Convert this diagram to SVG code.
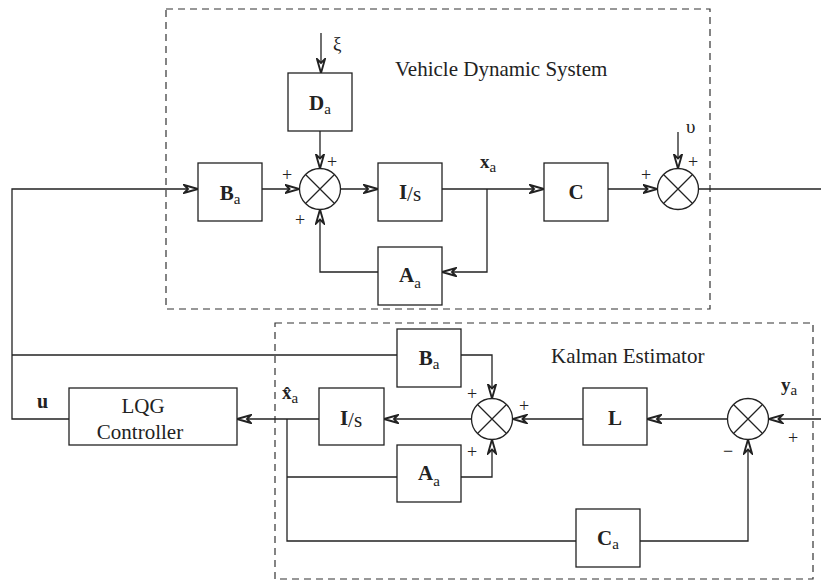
<svg xmlns="http://www.w3.org/2000/svg" width="821" height="580" viewBox="0 0 821 580">
<style>
text{font-family:"Liberation Serif","Times New Roman",serif;fill:#222}
.box{fill:#fff;stroke:#222;stroke-width:1.3}
.dash{fill:none;stroke:#333;stroke-width:1.2;stroke-dasharray:7,5}
.ln{fill:none;stroke:#222;stroke-width:1.3}
.arr{fill:none;stroke:#222;stroke-width:1.3;marker-end:url(#ah)}
.sum{fill:#fff;stroke:#222;stroke-width:1.3}
.lbl{font-size:21px;text-anchor:middle}
.b{font-weight:bold}
.sub{font-size:15px}
.sg{font-size:18px;text-anchor:middle}
.ttl{font-size:21px}
</style>
<defs>
<marker id="ah" markerUnits="userSpaceOnUse" viewBox="0 0 16 10" refX="15" refY="5" markerWidth="16" markerHeight="10" orient="auto">
<path d="M1,1 L15,5 L1,9 L5,5 Z" fill="#fff" stroke="#222" stroke-width="1.9" stroke-linejoin="miter"/>
</marker>
</defs>

<g id="vehicle-system">
<rect class="dash" x="166" y="9" width="544" height="300"/>
<text class="ttl" x="395" y="76">Vehicle Dynamic System</text>
</g>
<g id="kalman-estimator">
<rect class="dash" x="275" y="323" width="538" height="256"/>
<text class="ttl" x="551" y="363">Kalman Estimator</text>
</g>

<g id="connectors">
<path class="arr" d="M69,419 H12 V189 H198"/>
<path class="ln" d="M12,355 H397"/>
<path class="arr" d="M262,189 H299.5"/>
<path class="arr" d="M321,33 V73"/>
<path class="arr" d="M320,131 V168.5"/>
<path class="arr" d="M340.5,189 H378"/>
<path class="arr" d="M442,189 H544"/>
<path class="arr" d="M487,189 V272 H442"/>
<path class="arr" d="M378,272 H320 V209.5"/>
<path class="arr" d="M608,189 H657.5"/>
<path class="arr" d="M678,132 V168.5"/>
<path class="ln" d="M698.5,189 H821"/>
<path class="arr" d="M461,355 H492 V398.5"/>
<path class="arr" d="M583,419 H512.5"/>
<path class="arr" d="M471.5,419 H384"/>
<path class="arr" d="M319,419 H237"/>
<path class="ln" d="M287,419 V541 H576"/>
<path class="ln" d="M287,477 H397"/>
<path class="arr" d="M461,477 H492 V439.5"/>
<path class="arr" d="M640,541 H748 V439.5"/>
<path class="arr" d="M727.5,419 H647"/>
<path class="arr" d="M821,419 H768.5"/>
</g>

<g id="xi-label"><text x="333" y="50" style="font-size:19px">ξ</text></g>
<g id="upsilon-label"><text x="686" y="133" style="font-size:19px">υ</text></g>

<g id="Da"><rect class="box" x="288" y="73" width="64" height="58"/>
<text class="lbl" x="320" y="110"><tspan class="b">D</tspan><tspan class="sub" dy="4">a</tspan></text></g>
<g id="Ba-top"><rect class="box" x="198" y="163" width="64" height="58"/>
<text class="lbl" x="230" y="200"><tspan class="b">B</tspan><tspan class="sub" dy="4">a</tspan></text></g>
<g id="sum1"><circle class="sum" cx="320" cy="189" r="20.5"/>
<path class="ln" d="M305.5,174.5 L334.5,203.5 M334.5,174.5 L305.5,203.5"/>
<text class="sg" x="287" y="181">+</text><text class="sg" x="332" y="168">+</text><text class="sg" x="300" y="226">+</text></g>
<g id="Is-top"><rect class="box" x="378" y="163" width="64" height="58"/>
<text class="lbl" x="410" y="199"><tspan class="b">I</tspan><tspan dy="2">/s</tspan></text></g>
<g id="xa-label"><text x="480" y="168" style="font-size:19px"><tspan class="b">x</tspan><tspan class="sub" dy="4">a</tspan></text></g>
<g id="C"><rect class="box" x="544" y="163" width="64" height="58"/>
<text class="lbl b" x="576" y="199">C</text></g>
<g id="sum2"><circle class="sum" cx="678" cy="189" r="20.5"/>
<path class="ln" d="M663.5,174.5 L692.5,203.5 M692.5,174.5 L663.5,203.5"/>
<text class="sg" x="646" y="181">+</text><text class="sg" x="693" y="168">+</text></g>
<g id="Aa-top"><rect class="box" x="378" y="247" width="64" height="58"/>
<text class="lbl" x="410" y="282"><tspan class="b">A</tspan><tspan class="sub" dy="6">a</tspan></text></g>

<g id="Ba-kalman"><rect class="box" x="397" y="329" width="64" height="58"/>
<text class="lbl" x="429" y="365"><tspan class="b">B</tspan><tspan class="sub" dy="4">a</tspan></text></g>
<g id="u-label"><text x="37" y="408" class="b" style="font-size:20px">u</text></g>
<g id="LQG"><rect class="box" x="69" y="388" width="168" height="57"/>
<text class="ttl" x="143" y="413" text-anchor="middle">LQG</text>
<text class="ttl" x="140" y="439" text-anchor="middle">Controller</text></g>
<g id="xhat-label"><text x="282" y="399" style="font-size:19px"><tspan class="b">x̂</tspan><tspan class="sub" dy="4">a</tspan></text></g>
<g id="Is-kalman"><rect class="box" x="319" y="388" width="65" height="57"/>
<text class="lbl" x="351" y="425"><tspan class="b">I</tspan><tspan dy="2">/s</tspan></text></g>
<g id="sum3"><circle class="sum" cx="492" cy="419" r="20.5"/>
<path class="ln" d="M477.5,404.5 L506.5,433.5 M506.5,404.5 L477.5,433.5"/>
<text class="sg" x="472" y="400">+</text><text class="sg" x="524" y="412">+</text><text class="sg" x="472" y="458">+</text></g>
<g id="L"><rect class="box" x="583" y="388" width="64" height="57"/>
<text class="lbl b" x="615" y="425">L</text></g>
<g id="sum4"><circle class="sum" cx="748" cy="419" r="20.5"/>
<path class="ln" d="M733.5,404.5 L762.5,433.5 M762.5,404.5 L733.5,433.5"/>
<text class="sg" x="728" y="457">−</text><text class="sg" x="793" y="444">+</text></g>
<g id="ya-label"><text x="781" y="391" style="font-size:19px"><tspan class="b">y</tspan><tspan class="sub" dy="4">a</tspan></text></g>
<g id="Aa-kalman"><rect class="box" x="397" y="445" width="64" height="57"/>
<text class="lbl" x="429" y="480"><tspan class="b">A</tspan><tspan class="sub" dy="6">a</tspan></text></g>
<g id="Ca"><rect class="box" x="576" y="509" width="64" height="58"/>
<text class="lbl" x="608" y="545"><tspan class="b">C</tspan><tspan class="sub" dy="4">a</tspan></text></g>
</svg>
